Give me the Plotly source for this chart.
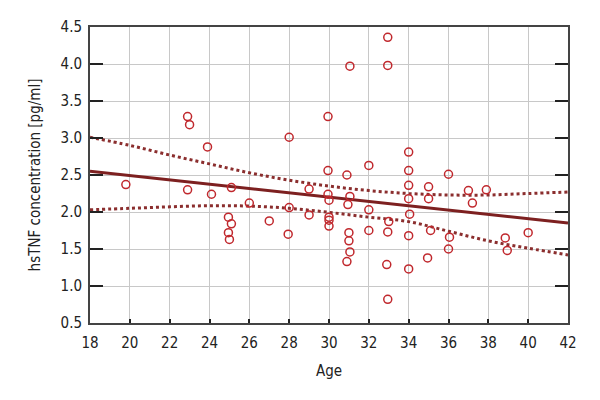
import plotly.graph_objects as go

age = [19.8, 22.9, 23.0, 23.9, 22.9, 24.1, 25.1, 26.0, 24.95, 25.1, 24.95, 25.0,
       27.0, 28.0, 28.0, 27.95, 29.0, 29.0,
       29.95, 29.95, 29.95, 30.0, 30.0, 30.0, 30.0,
       31.05, 30.9, 31.05, 30.95, 31.0, 31.0, 31.05, 30.9,
       32.0, 32.0, 32.0,
       32.95, 32.95, 33.0, 32.95, 32.9, 32.95,
       34.0, 34.0, 34.0, 34.0, 34.05, 34.0, 34.0,
       35.0, 35.0, 35.1, 34.95,
       36.0, 36.05, 36.0,
       37.0, 37.2, 37.9, 38.85, 38.95, 40.0]
hstnf = [2.37, 3.29, 3.18, 2.88, 2.30, 2.24, 2.33, 2.12, 1.93, 1.84, 1.72, 1.63,
         1.88, 3.01, 2.06, 1.70, 2.31, 1.96,
         3.29, 2.56, 2.24, 2.16, 1.93, 1.89, 1.81,
         3.97, 2.50, 2.21, 2.10, 1.72, 1.61, 1.46, 1.33,
         2.63, 2.03, 1.75,
         4.36, 3.98, 1.87, 1.73, 1.29, 0.82,
         2.81, 2.56, 2.36, 2.18, 1.97, 1.68, 1.23,
         2.34, 2.18, 1.75, 1.38,
         2.51, 1.66, 1.50,
         2.29, 2.12, 2.30, 1.65, 1.48, 1.72]

fit_age = [18, 42]
fit_val = [2.55, 1.85]

band_age = [18, 20, 22, 24, 26, 28, 30, 32, 34, 36, 38, 40, 42]
upper_band = [3.01, 2.90, 2.77, 2.65, 2.53, 2.43, 2.35, 2.29, 2.25, 2.23, 2.23, 2.25, 2.27]
lower_band = [2.03, 2.05, 2.07, 2.085, 2.08, 2.05, 1.995, 1.93, 1.87, 1.74, 1.61, 1.51, 1.42]

x_ticks = list(range(18, 43, 2))
y_ticks = [0.5, 1.0, 1.5, 2.0, 2.5, 3.0, 3.5, 4.0, 4.5]

font_family = "Liberation Sans Narrow, DejaVu Sans Condensed, Arial Narrow, sans-serif"

fig = go.Figure()
fig.add_trace(go.Scatter(x=band_age, y=upper_band, mode="lines",
                         line=dict(color="#8b2e2e", width=3, dash="dot", shape="spline"),
                         hoverinfo="skip", showlegend=False))
fig.add_trace(go.Scatter(x=band_age, y=lower_band, mode="lines",
                         line=dict(color="#8b2e2e", width=3, dash="dot", shape="spline"),
                         hoverinfo="skip", showlegend=False))
fig.add_trace(go.Scatter(x=fit_age, y=fit_val, mode="lines",
                         line=dict(color="#7d2020", width=3),
                         showlegend=False))
fig.add_trace(go.Scatter(x=age, y=hstnf, mode="markers",
                         marker=dict(symbol="circle-open", size=8, color="#c0282d",
                                     line=dict(width=1.5, color="#c0282d")),
                         showlegend=False))

fig.update_layout(
    width=600, height=400,
    margin=dict(l=82, r=40, t=19, b=85),
    paper_bgcolor="white", plot_bgcolor="white",
    font=dict(family=font_family, size=14, color="#222"),
)
fig.update_xaxes(range=[18, 42], tickvals=x_ticks, ticktext=[str(v) for v in x_ticks],
                 showgrid=True, gridcolor="#c8c8c8", gridwidth=1,
                 showline=True, linecolor="#444", linewidth=2, mirror=True,
                 ticks="inside", ticklen=4, tickcolor="#222", tickwidth=1.5,
                 zeroline=False, automargin=False, ticklabelstandoff=5,
                 title=dict(text="Age", font=dict(family=font_family, size=15), standoff=14),
                 tickfont=dict(family=font_family, size=15))
fig.update_yaxes(range=[0.5, 4.5], tickvals=y_ticks, ticktext=[f"{v:.1f}" for v in y_ticks],
                 showgrid=True, gridcolor="#c8c8c8", gridwidth=1,
                 showline=True, linecolor="#444", linewidth=2, mirror="ticks",
                 ticks="inside", ticklen=13, tickcolor="#222", tickwidth=1.5,
                 zeroline=False, automargin=False, ticklabelstandoff=3,
                 title=dict(text="hsTNF concentration [pg/ml]", font=dict(family=font_family, size=15), standoff=16),
                 tickfont=dict(family=font_family, size=15))

fig.write_html("out.html")
